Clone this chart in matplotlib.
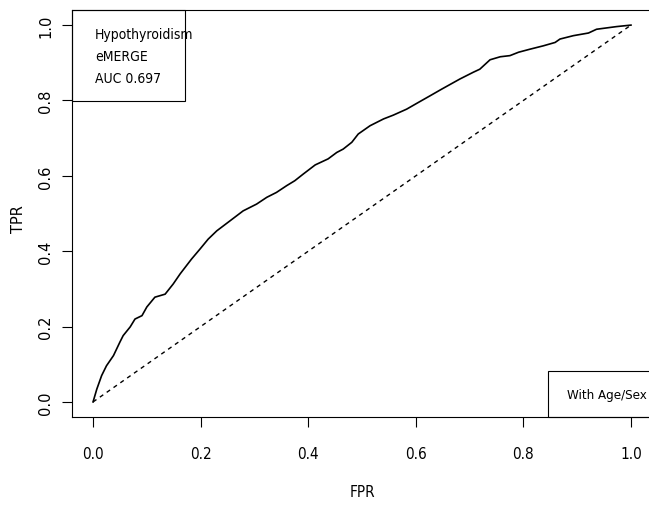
import matplotlib
matplotlib.use("Agg")
import matplotlib.pyplot as plt
from matplotlib.patches import Rectangle

# ROC curve points
fpr = [0.0, 0.007, 0.016, 0.025, 0.038, 0.050, 0.056, 0.069, 0.078, 0.091, 0.100,
       0.115, 0.134, 0.149, 0.162, 0.183, 0.199, 0.214, 0.230, 0.255, 0.279,
       0.304, 0.323, 0.341, 0.360, 0.375, 0.391, 0.413, 0.437, 0.453, 0.465,
       0.481, 0.493, 0.515, 0.540, 0.558, 0.583, 0.605, 0.626, 0.648, 0.682,
       0.707, 0.719, 0.738, 0.757, 0.775, 0.791, 0.812, 0.837, 0.859, 0.868,
       0.893, 0.921, 0.936, 0.973, 1.0]
tpr = [0.0, 0.034, 0.070, 0.096, 0.123, 0.159, 0.176, 0.199, 0.220, 0.229, 0.252,
       0.278, 0.286, 0.313, 0.340, 0.379, 0.406, 0.432, 0.454, 0.481, 0.507,
       0.525, 0.543, 0.556, 0.574, 0.587, 0.605, 0.629, 0.645, 0.662, 0.671,
       0.689, 0.711, 0.733, 0.751, 0.761, 0.777, 0.795, 0.812, 0.830, 0.857,
       0.875, 0.883, 0.908, 0.916, 0.919, 0.928, 0.936, 0.945, 0.954, 0.963,
       0.972, 0.979, 0.989, 0.996, 1.0]
ticks = [0.0, 0.2, 0.4, 0.6, 0.8, 1.0]
tick_labels = ["0.0", "0.2", "0.4", "0.6", "0.8", "1.0"]
info_lines = ["Hypothyroidism", "eMERGE", "AUC 0.697"]
model_label = "With Age/Sex"

narrow = dict(family="DejaVu Sans", stretch="condensed")

fig = plt.figure(figsize=(6.49, 5.06), dpi=100)
ax = fig.add_axes([0.1102, 0.1739, 0.8952, 0.8043])

ax.plot(fpr, tpr, color="black", lw=1.2)
ax.plot([0, 1], [0, 1], color="black", lw=1.0, linestyle=(0, (3, 3)))

ax.set_xlim(-0.04, 1.04)
ax.set_ylim(-0.04, 1.04)

ax.set_xticks(ticks)
ax.set_xticklabels(tick_labels, fontsize=11, **narrow)
ax.set_yticks(ticks)
ax.set_yticklabels(tick_labels, family="DejaVu Sans", fontsize=10.5,
                   rotation=90, va="center")
ax.tick_params(axis="x", direction="out", length=7, pad=14, width=0.8)
ax.tick_params(axis="y", direction="out", length=7, pad=6, width=0.8)

ax.set_xlabel("FPR", fontsize=11, va="center", **narrow)
ax.xaxis.set_label_coords(0.5, -0.184)
ax.set_ylabel("TPR", family="DejaVu Sans", fontsize=10.5, va="center")
ax.yaxis.set_label_coords(-0.092, 0.49)

for s in ax.spines.values():
    s.set_linewidth(0.8)

# top-left info box
ax.add_patch(Rectangle((0, 0.777), 0.196, 0.223, transform=ax.transAxes,
                       fill=False, lw=0.8, edgecolor="black", clip_on=False))
for i, line in enumerate(info_lines):
    ax.text(0.04, 0.942 - i * 0.054, line, transform=ax.transAxes,
            fontsize=10, va="center", ha="left", **narrow)

# bottom-right model box
ax.add_patch(Rectangle((0.820, 0), 0.3, 0.113, transform=ax.transAxes,
                       fill=False, lw=0.8, edgecolor="black", clip_on=False))
ax.text(0.853, 0.056, model_label, transform=ax.transAxes,
        fontsize=9.5, va="center", ha="left", **narrow)

fig.savefig("out.png", dpi=100)
